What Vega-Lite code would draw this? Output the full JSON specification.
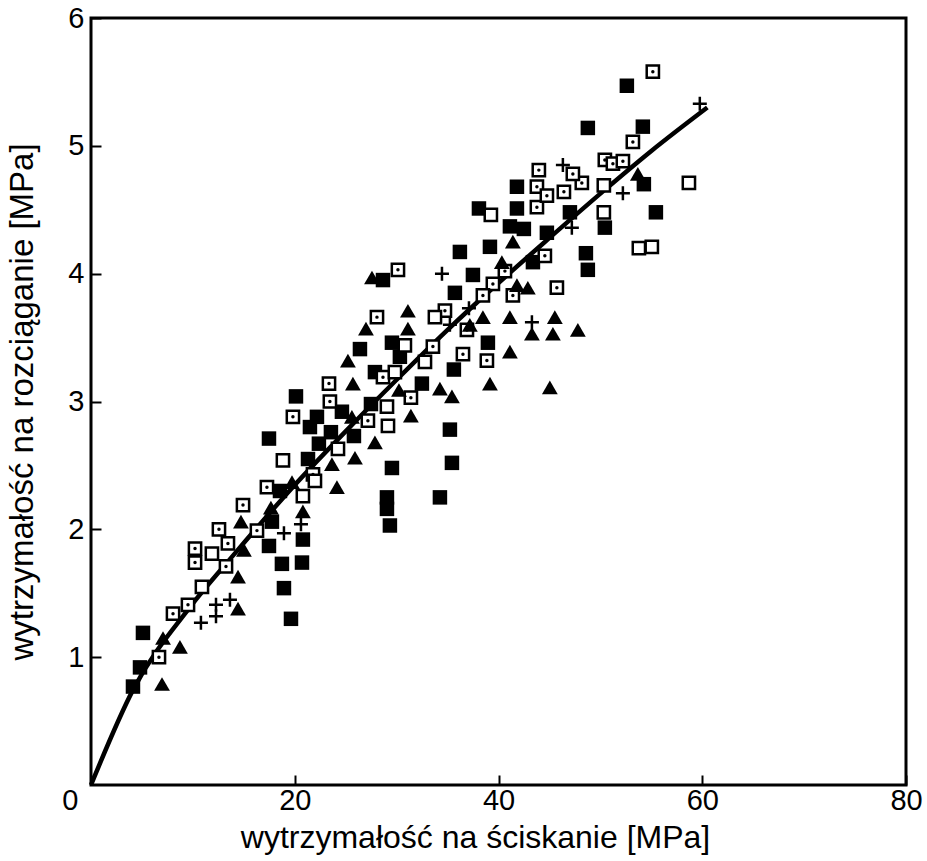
{
  "$schema": "https://vega.github.io/schema/vega-lite/v6.json",
  "width": 815,
  "height": 767,
  "autosize": {"type": "none"},
  "padding": {"left": 91, "top": 18, "right": 21, "bottom": 76},
  "background": "white",
  "config": {
    "view": {"stroke": "black", "strokeWidth": 3},
    "font": "Liberation Sans",
    "axis": {
      "grid": false,
      "domain": false,
      "tickColor": "black",
      "tickWidth": 2,
      "tickSize": -10,
      "labelColor": "black",
      "labelFontSize": 29,
      "labelFont": "Liberation Sans",
      "titleFont": "Liberation Sans",
      "titleFontWeight": "normal",
      "titleColor": "black",
      "labelFlush": false
    }
  },
  "datasets": {
    "curve": [
      {"x": 0, "y": 0}, {"x": 4.1, "y": 0.74}, {"x": 9.7, "y": 1.39}, {"x": 14, "y": 1.8},
      {"x": 19.8, "y": 2.33}, {"x": 25.4, "y": 2.8}, {"x": 30, "y": 3.17}, {"x": 35, "y": 3.56},
      {"x": 39.2, "y": 3.87}, {"x": 45, "y": 4.28}, {"x": 50.2, "y": 4.64}, {"x": 55, "y": 4.96},
      {"x": 60.5, "y": 5.3}
    ],
    "pts": [
      {"t": "fs", "x": 4.12, "y": 0.77}, {"t": "fs", "x": 4.81, "y": 0.92}, {"t": "fs", "x": 5.1, "y": 1.19},
      {"t": "fs", "x": 17.47, "y": 1.87}, {"t": "fs", "x": 18.74, "y": 1.73}, {"t": "fs", "x": 20.71, "y": 1.74},
      {"t": "fs", "x": 19.63, "y": 1.3}, {"t": "fs", "x": 18.94, "y": 1.54}, {"t": "fs", "x": 20.8, "y": 1.92},
      {"t": "fs", "x": 17.76, "y": 2.06}, {"t": "fs", "x": 17.47, "y": 2.71}, {"t": "fs", "x": 18.55, "y": 2.3},
      {"t": "fs", "x": 21.3, "y": 2.55}, {"t": "fs", "x": 20.12, "y": 3.04}, {"t": "fs", "x": 21.49, "y": 2.8},
      {"t": "fs", "x": 22.18, "y": 2.88}, {"t": "fs", "x": 23.55, "y": 2.76}, {"t": "fs", "x": 22.37, "y": 2.67},
      {"t": "fs", "x": 25.81, "y": 2.73}, {"t": "fs", "x": 24.63, "y": 2.92}, {"t": "fs", "x": 26.4, "y": 3.41},
      {"t": "fs", "x": 27.48, "y": 2.98}, {"t": "fs", "x": 27.87, "y": 3.23}, {"t": "fs", "x": 29.54, "y": 3.46},
      {"t": "fs", "x": 28.66, "y": 3.95}, {"t": "fs", "x": 30.32, "y": 3.35}, {"t": "fs", "x": 32.48, "y": 3.14},
      {"t": "fs", "x": 35.62, "y": 3.25}, {"t": "fs", "x": 35.23, "y": 2.78}, {"t": "fs", "x": 35.43, "y": 2.52},
      {"t": "fs", "x": 34.25, "y": 2.25}, {"t": "fs", "x": 29.54, "y": 2.48}, {"t": "fs", "x": 29.05, "y": 2.25},
      {"t": "fs", "x": 29.05, "y": 2.16}, {"t": "fs", "x": 29.34, "y": 2.03}, {"t": "fs", "x": 35.72, "y": 3.85},
      {"t": "fs", "x": 37.49, "y": 3.99}, {"t": "fs", "x": 36.21, "y": 4.17}, {"t": "fs", "x": 38.96, "y": 3.46},
      {"t": "fs", "x": 39.16, "y": 4.21}, {"t": "fs", "x": 38.08, "y": 4.51}, {"t": "fs", "x": 41.81, "y": 4.51},
      {"t": "fs", "x": 41.12, "y": 4.37}, {"t": "fs", "x": 42.49, "y": 4.35}, {"t": "fs", "x": 44.75, "y": 4.32},
      {"t": "fs", "x": 43.38, "y": 4.09}, {"t": "fs", "x": 41.81, "y": 4.68}, {"t": "fs", "x": 47.01, "y": 4.48},
      {"t": "fs", "x": 48.58, "y": 4.16}, {"t": "fs", "x": 48.77, "y": 4.03}, {"t": "fs", "x": 50.44, "y": 4.36},
      {"t": "fs", "x": 48.77, "y": 5.14}, {"t": "fs", "x": 54.17, "y": 5.15}, {"t": "fs", "x": 52.6, "y": 5.47},
      {"t": "fs", "x": 54.27, "y": 4.7}, {"t": "fs", "x": 55.45, "y": 4.48},

      {"t": "ds", "x": 6.67, "y": 1.0}, {"t": "ds", "x": 8.05, "y": 1.34}, {"t": "ds", "x": 9.52, "y": 1.41},
      {"t": "ds", "x": 10.21, "y": 1.85}, {"t": "ds", "x": 10.21, "y": 1.74}, {"t": "ds", "x": 12.56, "y": 2.0},
      {"t": "ds", "x": 13.44, "y": 1.89}, {"t": "ds", "x": 13.25, "y": 1.71}, {"t": "ds", "x": 14.92, "y": 2.19},
      {"t": "ds", "x": 16.29, "y": 1.99}, {"t": "ds", "x": 17.27, "y": 2.33}, {"t": "ds", "x": 21.79, "y": 2.43},
      {"t": "ds", "x": 19.82, "y": 2.88}, {"t": "ds", "x": 23.36, "y": 3.14}, {"t": "ds", "x": 23.45, "y": 3.0},
      {"t": "ds", "x": 27.18, "y": 2.85}, {"t": "ds", "x": 28.66, "y": 3.19}, {"t": "ds", "x": 30.13, "y": 4.03},
      {"t": "ds", "x": 28.07, "y": 3.66}, {"t": "ds", "x": 31.4, "y": 3.03}, {"t": "ds", "x": 33.56, "y": 3.43},
      {"t": "ds", "x": 34.74, "y": 3.71}, {"t": "ds", "x": 36.51, "y": 3.37}, {"t": "ds", "x": 38.86, "y": 3.32},
      {"t": "ds", "x": 36.9, "y": 3.56}, {"t": "ds", "x": 39.45, "y": 3.92}, {"t": "ds", "x": 38.47, "y": 3.83},
      {"t": "ds", "x": 41.41, "y": 3.83}, {"t": "ds", "x": 45.73, "y": 3.89}, {"t": "ds", "x": 40.63, "y": 4.02},
      {"t": "ds", "x": 44.55, "y": 4.14}, {"t": "ds", "x": 43.77, "y": 4.52}, {"t": "ds", "x": 43.77, "y": 4.68},
      {"t": "ds", "x": 44.75, "y": 4.61}, {"t": "ds", "x": 46.42, "y": 4.64}, {"t": "ds", "x": 48.18, "y": 4.71},
      {"t": "ds", "x": 47.3, "y": 4.78}, {"t": "ds", "x": 43.96, "y": 4.81}, {"t": "ds", "x": 50.44, "y": 4.89},
      {"t": "ds", "x": 51.23, "y": 4.86}, {"t": "ds", "x": 52.21, "y": 4.88}, {"t": "ds", "x": 53.19, "y": 5.03},
      {"t": "ds", "x": 55.15, "y": 5.58},

      {"t": "os", "x": 10.89, "y": 1.55}, {"t": "os", "x": 11.87, "y": 1.81}, {"t": "os", "x": 20.8, "y": 2.26},
      {"t": "os", "x": 21.98, "y": 2.38}, {"t": "os", "x": 18.84, "y": 2.54}, {"t": "os", "x": 24.24, "y": 2.63},
      {"t": "os", "x": 29.15, "y": 2.81}, {"t": "os", "x": 29.05, "y": 2.96}, {"t": "os", "x": 30.81, "y": 3.44},
      {"t": "os", "x": 29.83, "y": 3.23}, {"t": "os", "x": 32.78, "y": 3.31}, {"t": "os", "x": 33.76, "y": 3.66},
      {"t": "os", "x": 39.25, "y": 4.46}, {"t": "os", "x": 50.34, "y": 4.69}, {"t": "os", "x": 50.34, "y": 4.48},
      {"t": "os", "x": 58.69, "y": 4.71}, {"t": "os", "x": 53.78, "y": 4.2}, {"t": "os", "x": 55.05, "y": 4.21},

      {"t": "tr", "x": 6.97, "y": 0.79}, {"t": "tr", "x": 7.07, "y": 1.15}, {"t": "tr", "x": 8.73, "y": 1.08},
      {"t": "tr", "x": 14.43, "y": 1.63}, {"t": "tr", "x": 14.43, "y": 1.38}, {"t": "tr", "x": 14.72, "y": 2.06},
      {"t": "tr", "x": 15.01, "y": 1.84}, {"t": "tr", "x": 17.66, "y": 2.17}, {"t": "tr", "x": 19.73, "y": 2.37},
      {"t": "tr", "x": 20.8, "y": 2.14}, {"t": "tr", "x": 24.14, "y": 2.33}, {"t": "tr", "x": 23.65, "y": 2.51},
      {"t": "tr", "x": 25.91, "y": 2.56}, {"t": "tr", "x": 25.61, "y": 2.88}, {"t": "tr", "x": 27.87, "y": 2.68},
      {"t": "tr", "x": 31.4, "y": 2.89}, {"t": "tr", "x": 25.71, "y": 3.14}, {"t": "tr", "x": 25.22, "y": 3.32},
      {"t": "tr", "x": 27.58, "y": 3.97}, {"t": "tr", "x": 26.99, "y": 3.57}, {"t": "tr", "x": 31.11, "y": 3.71},
      {"t": "tr", "x": 31.11, "y": 3.57}, {"t": "tr", "x": 30.23, "y": 3.09}, {"t": "tr", "x": 34.25, "y": 3.1},
      {"t": "tr", "x": 35.43, "y": 3.04}, {"t": "tr", "x": 39.16, "y": 3.14}, {"t": "tr", "x": 45.04, "y": 3.11},
      {"t": "tr", "x": 37.19, "y": 3.6}, {"t": "tr", "x": 38.47, "y": 3.66}, {"t": "tr", "x": 41.12, "y": 3.66},
      {"t": "tr", "x": 45.53, "y": 3.66}, {"t": "tr", "x": 43.28, "y": 3.53}, {"t": "tr", "x": 45.34, "y": 3.53},
      {"t": "tr", "x": 47.79, "y": 3.56}, {"t": "tr", "x": 41.12, "y": 3.39}, {"t": "tr", "x": 40.33, "y": 4.09},
      {"t": "tr", "x": 41.41, "y": 4.25}, {"t": "tr", "x": 41.81, "y": 3.91}, {"t": "tr", "x": 42.88, "y": 3.89},
      {"t": "tr", "x": 53.68, "y": 4.78},

      {"t": "pl", "x": 10.79, "y": 1.27}, {"t": "pl", "x": 12.27, "y": 1.32}, {"t": "pl", "x": 12.27, "y": 1.41},
      {"t": "pl", "x": 13.64, "y": 1.45}, {"t": "pl", "x": 18.94, "y": 1.97}, {"t": "pl", "x": 20.61, "y": 2.04},
      {"t": "pl", "x": 34.45, "y": 4.0}, {"t": "pl", "x": 35.23, "y": 3.6}, {"t": "pl", "x": 37.1, "y": 3.73},
      {"t": "pl", "x": 43.28, "y": 3.62}, {"t": "pl", "x": 47.2, "y": 4.36}, {"t": "pl", "x": 46.32, "y": 4.85},
      {"t": "pl", "x": 52.21, "y": 4.63}, {"t": "pl", "x": 59.76, "y": 5.33}
    ]
  },
  "encoding": {
    "x": {
      "field": "x", "type": "quantitative",
      "scale": {"domain": [0, 80], "nice": false},
      "axis": {
        "values": [0, 20, 40, 60, 80],
        "title": "wytrzymałość na ściskanie [MPa]",
        "titleFontSize": 32,
        "titleX": 384,
        "labelPadding": 11,
        "labelAlign": {"condition": {"test": "datum.value == 0", "value": "right"}, "value": "center"},
        "labelOffset": {"condition": {"test": "datum.value == 0", "value": -13}, "value": 0},
        "titlePadding": 7
      }
    },
    "y": {
      "field": "y", "type": "quantitative",
      "scale": {"domain": [0, 6], "nice": false},
      "axis": {
        "values": [1, 2, 3, 4, 5, 6],
        "title": "wytrzymałość na rozciąganie [MPa]",
        "titleFontSize": 33,
        "labelPadding": 17,
        "titlePadding": 28
      }
    }
  },
  "layer": [
    {
      "data": {"name": "curve"},
      "mark": {"type": "line", "color": "black", "strokeWidth": 4.5, "interpolate": "monotone"}
    },
    {
      "data": {"name": "pts"},
      "transform": [{"filter": "datum.t == 'fs'"}],
      "mark": {"type": "point", "shape": "square", "filled": true, "color": "black", "size": 210, "opacity": 1}
    },
    {
      "data": {"name": "pts"},
      "transform": [{"filter": "datum.t == 'os' || datum.t == 'ds'"}],
      "mark": {"type": "point", "shape": "square", "filled": true, "fill": "white", "stroke": "black", "strokeWidth": 2.5, "size": 150, "opacity": 1}
    },
    {
      "data": {"name": "pts"},
      "transform": [{"filter": "datum.t == 'ds'"}],
      "mark": {"type": "point", "shape": "circle", "filled": true, "color": "black", "size": 12, "opacity": 1}
    },
    {
      "data": {"name": "pts"},
      "transform": [{"filter": "datum.t == 'tr'"}],
      "mark": {"type": "point", "shape": "triangle-up", "filled": true, "color": "black", "size": 250, "opacity": 1}
    },
    {
      "data": {"name": "pts"},
      "transform": [{"filter": "datum.t == 'pl'"}],
      "mark": {"type": "point", "shape": "M-1,0H1M0,-1V1", "filled": false, "color": "black", "strokeWidth": 2.5, "size": 196, "opacity": 1}
    }
  ]
}
